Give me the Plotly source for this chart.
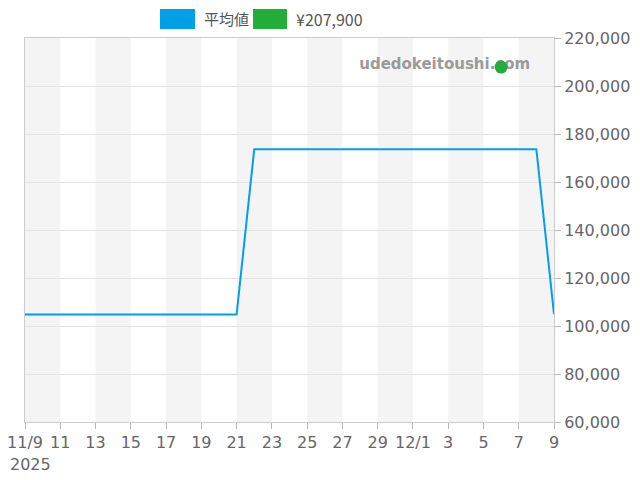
import pandas as pd
import plotly.graph_objects as go

# daily average price
dates = pd.date_range('2025-11-09', '2025-12-09', freq='D')
avg_price = [104800] * 13 + [173600] * 17 + [104900]

# current listing
point_date = ['2025-12-06']
point_price = [207900]

tick_dates = pd.date_range('2025-11-09', '2025-12-09', freq='2D')
tick_text = ['11/9', '11', '13', '15', '17', '19', '21', '23', '25', '27',
             '29', '12/1', '3', '5', '7', '9']
year_label = '2025'

y_ticks = [60000, 80000, 100000, 120000, 140000, 160000, 180000, 200000, 220000]

line_color = '#00a0e9'
dot_color = '#22ae38'
font = 'DejaVu Sans, Noto Sans CJK JP'

fig = go.Figure()
# watermark on a hidden base axis so the data sits above it
fig.add_trace(go.Scatter(x=[0.955], y=[0.93], mode='text', text=['<b>udedokeitoushi.com</b>'],
                         textposition='middle left', hoverinfo='skip',
                         textfont=dict(size=15, color='#9a9a9a', family='DejaVu Sans'),
                         xaxis='x', yaxis='y', showlegend=False))
fig.add_trace(go.Scatter(x=dates, y=avg_price, mode='lines', name='平均値',
                         line=dict(color=line_color, width=2), xaxis='x2', yaxis='y2',
                         showlegend=False))
fig.add_trace(go.Scatter(x=point_date, y=point_price, mode='markers', name='¥207,900',
                         marker=dict(color=dot_color, size=13, line_width=0),
                         xaxis='x2', yaxis='y2', showlegend=False))

# alternating grey bands, every other 2-day block
shapes = []
for i in range(0, len(tick_dates) - 1, 2):
    shapes.append(dict(type='rect', xref='x2', yref='paper', layer='below',
                       x0=tick_dates[i], x1=tick_dates[i + 1], y0=0, y1=1,
                       fillcolor='#f4f4f4', line_width=0))

# legend swatches drawn by hand
shapes.append(dict(type='rect', xref='paper', yref='paper', x0=0.2552, x1=0.3214,
                   y0=1.0234, y1=1.0755, fillcolor=line_color, line_width=0))
shapes.append(dict(type='rect', xref='paper', yref='paper', x0=0.431, x1=0.4953,
                   y0=1.0234, y1=1.0755, fillcolor=dot_color, line_width=0))

annotations = [
    dict(text='平均値', xref='paper', yref='paper', x=0.334, y=1.0495,
         xanchor='left', yanchor='middle', showarrow=False,
         font=dict(size=15, color='#555', family='Noto Sans CJK JP')),
    dict(text='¥207,900', xref='paper', yref='paper', x=0.509, y=1.0495,
         xanchor='left', yanchor='middle', showarrow=False,
         font=dict(size=16, color='#555', family='Noto Sans CJK JP')),
    # year under the first date, pinned to the left edge so it is not clipped
    dict(text=year_label, xref='paper', yref='paper', x=-0.0321, y=-0.11,
         xanchor='left', yanchor='middle', showarrow=False,
         font=dict(size=16, color='#666', family='DejaVu Sans')),
]

# page body has an 8px margin, so the figure is 8px smaller on each axis
fig.update_layout(width=632, height=472,
                  margin=dict(l=17, r=86, t=30, b=58),
                  paper_bgcolor='white', plot_bgcolor='rgba(0,0,0,0)',
                  font=dict(family=font, size=16, color='#666'),
                  shapes=shapes, annotations=annotations,
                  showlegend=False,
                  xaxis=dict(range=[0, 1], visible=False, fixedrange=True, automargin=False),
                  yaxis=dict(range=[0, 1], visible=False, fixedrange=True, automargin=False),
                  xaxis2=dict(overlaying='x', range=[dates[0], dates[-1]],
                              tickvals=tick_dates, ticktext=tick_text,
                              showgrid=False, ticks='outside', ticklen=6, tickcolor='#bbb',
                              showline=True, linecolor='#ccc', linewidth=1, mirror=True,
                              zeroline=False, automargin=False, ticklabeloverflow='allow',
                              tickfont=dict(size=16, color='#666')),
                  yaxis2=dict(overlaying='y', range=[60000, 220000], tickvals=y_ticks,
                              side='right', tickformat=',d', showgrid=True,
                              gridcolor='#e2e2e2', ticks='outside', ticklen=6,
                              tickcolor='#bbb', showline=True, linecolor='#ccc',
                              linewidth=1, mirror=True, zeroline=False, automargin=False,
                              ticklabeloverflow='allow',
                              tickfont=dict(size=16, color='#666')))

fig.write_html('out.html')
